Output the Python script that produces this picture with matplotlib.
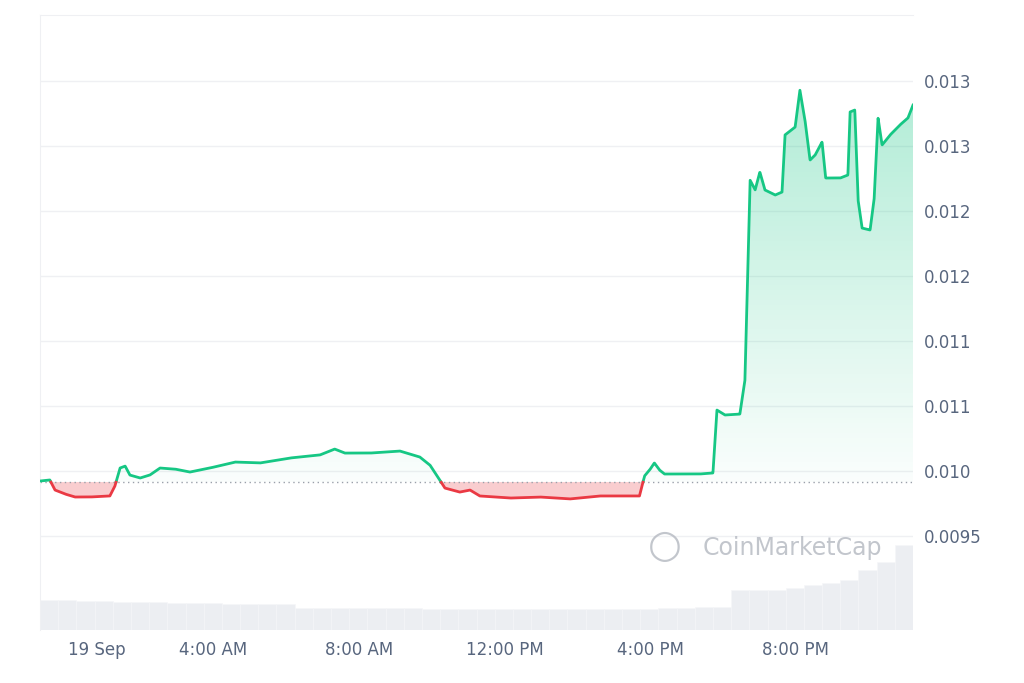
import matplotlib.pyplot as plt
import numpy as np
from matplotlib.patches import Polygon

# hours since start of window (window starts ~23:14 on 18 Sep)
hours = [0.0, 0.27, 0.41, 0.69, 0.96, 1.37, 1.92, 2.06, 2.2, 2.34, 2.47, 2.75, 3.02, 3.3, 3.71,
         4.12, 4.67, 5.36, 6.05, 6.87, 7.69, 8.1, 8.38, 9.07, 9.89, 10.44, 10.72, 10.99, 11.13,
         11.54, 11.82, 12.09, 12.92, 13.74, 14.56, 15.38, 16.48, 16.62, 16.76, 16.89, 17.03,
         17.17, 18.13, 18.5, 18.61, 18.83, 19.24, 19.38, 19.52, 19.66, 19.79, 19.93, 20.21,
         20.4, 20.48, 20.76, 20.89, 21.03, 21.17, 21.31, 21.5, 21.6, 22.0, 22.21, 22.27, 22.4,
         22.49, 22.6, 22.82, 22.93, 23.04, 23.15, 23.37, 23.64, 23.86, 24.0]
price = [0.009923, 0.009931, 0.009854, 0.009823, 0.009800, 0.009800, 0.009808, 0.009885,
         0.010023, 0.010038, 0.009969, 0.009946, 0.009969, 0.010023, 0.010015, 0.009992,
         0.010023, 0.010069, 0.010062, 0.010100, 0.010123, 0.010169, 0.010138, 0.010138,
         0.010154, 0.010108, 0.010046, 0.009931, 0.009869, 0.009838, 0.009854, 0.009808,
         0.009792, 0.009800, 0.009785, 0.009808, 0.009808, 0.009962, 0.010008, 0.010062,
         0.010008, 0.009977, 0.009977, 0.009985, 0.010469, 0.010431, 0.010438, 0.010700,
         0.012238, 0.012162, 0.012300, 0.012162, 0.012123, 0.012146, 0.012585, 0.012646,
         0.012931, 0.012700, 0.012392, 0.012431, 0.012531, 0.012254, 0.012254, 0.012277,
         0.012762, 0.012777, 0.012085, 0.011869, 0.011854, 0.012085, 0.012715, 0.012508,
         0.012585, 0.012662, 0.012715, 0.012815]
baseline = 0.009915

# half-hour volume (arbitrary units)
volume = [30, 30, 29, 29, 28, 28, 28, 27, 27, 27, 26, 26, 26, 26, 22, 22, 22, 22, 22, 22,
          22, 21, 21, 21, 21, 21, 21, 21, 21, 21, 21, 21, 21, 21, 22, 22, 23, 23, 40, 40,
          40, 42, 45, 47, 50, 60, 68, 85]

tick_vals = [0.0095, 0.010, 0.0105, 0.011, 0.0115, 0.012, 0.0125, 0.013]
tick_labels = ['0.0095', '0.010', '0.011', '0.011', '0.012', '0.012', '0.013', '0.013']
xtick_hours = [0.77, 4.77, 8.77, 12.77, 16.77, 20.77]
xtick_labels = ['19 Sep', '4:00 AM', '8:00 AM', '12:00 PM', '4:00 PM', '8:00 PM']

fig = plt.figure(figsize=(10.24, 6.83), dpi=100)
ax = fig.add_axes([40 / 1024, 53 / 683, 873 / 1024, 615 / 683])
ax.set_xlim(0, 24)
ax.set_ylim(0.008777, 0.013508)

# volume on a twin axis
axv = ax.twinx()
vx = np.arange(len(volume)) * 0.5
axv.bar(vx, volume, width=0.5, align='edge', color='#eceef2', edgecolor='#f5f6f8', linewidth=0.4)
axv.set_ylim(0, max(volume) * 615 / 85)
axv.set_yticks([])
for s in axv.spines.values():
    s.set_visible(False)
ax.set_zorder(axv.get_zorder() + 1)
ax.patch.set_visible(False)

for v in tick_vals:
    ax.axhline(v, color='#eff0f3', lw=1, zorder=0)

x = np.array(hours)
y = np.array(price)
green = '#16c784'
red = '#ea3943'

# gradient green fill above baseline
grad = np.linspace(0, 1, 256).reshape(-1, 1)
img = ax.imshow(grad, extent=[0, 24, baseline, 0.0131], origin='lower', aspect='auto',
                cmap=plt.matplotlib.colors.LinearSegmentedColormap.from_list(
                    'g', [(0.086, 0.78, 0.52, 0.02), (0.086, 0.78, 0.52, 0.35)]), zorder=1)
yc = np.maximum(y, baseline)
poly = Polygon(np.column_stack([np.r_[x, x[::-1]], np.r_[yc, np.full_like(yc, baseline)]]),
               closed=True, facecolor='none', edgecolor='none')
ax.add_patch(poly)
img.set_clip_path(poly)
ax.fill_between(x, y, baseline, where=y < baseline, interpolate=True, color=red, alpha=0.25, lw=0, zorder=1)

# line coloured by position vs baseline
xf = np.linspace(0, x[-1], 4000)
yf = np.interp(xf, x, y)
above = yf >= baseline
ax.plot(xf, np.where(above, yf, np.nan), color=green, lw=2, zorder=3)
ax.plot(xf, np.where(~above, yf, np.nan), color=red, lw=2, zorder=3)
ax.axhline(baseline, color='#9aa0aa', lw=1, ls=(0, (1, 2.5)), zorder=2)

ax.yaxis.tick_right()
ax.set_yticks(tick_vals)
ax.set_yticklabels(tick_labels)
ax.set_xticks(xtick_hours)
ax.set_xticklabels(xtick_labels)
ax.tick_params(axis='both', length=0, labelsize=12, colors='#58667e', pad=8)
ax.get_xticklabels()[0].set_horizontalalignment('left')
ax.get_xticklabels()[0].set_x(0)
for s in ['right', 'bottom']:
    ax.spines[s].set_visible(False)
for s in ['top', 'left']:
    ax.spines[s].set_color('#eff0f3')

fig.text(0.686, 0.188, 'CoinMarketCap', fontsize=17, color='#b8bcc4', alpha=0.85)
fig.text(0.633, 0.185, '\u25CB', fontsize=28, color='#b8bcc4', alpha=0.85)

fig.savefig('out.png', dpi=100)
